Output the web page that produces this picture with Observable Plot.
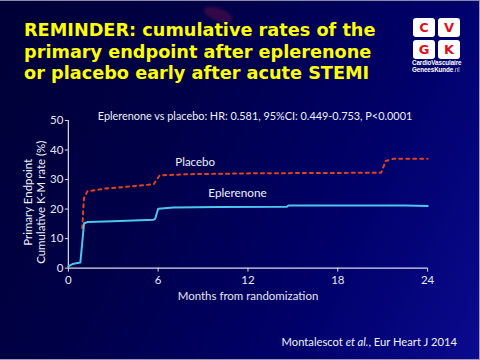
<!DOCTYPE html>
<html>
<head>
<meta charset="utf-8">
<script src="https://cdn.jsdelivr.net/npm/d3@7"></script>
<script src="https://cdn.jsdelivr.net/npm/@observablehq/plot@0.6"></script>
<style>
  html, body { margin: 0; padding: 0; }
  #page {
    position: relative; width: 480px; height: 360px; overflow: hidden; box-sizing: border-box;
    background: linear-gradient(115deg, #000036 0%, #000048 35%, #00006a 70%, #0a0a8e 100%);
    border-top: 1px solid #8a8aa8; border-right: 1px solid #9a9ab8; border-bottom: 1px solid #9a9ab8;
  }
  #blob { position: absolute; left: 203px; top: 7px; width: 30px; height: 13px; border-radius: 50%;
    background: rgba(110, 20, 70, 0.45); transform: rotate(20deg); filter: blur(1.5px); }
  #title { position: absolute; left: 24px; top: 19px; margin: 0; color: #ffff00;
    font: bold 17.7px/21.5px "DejaVu Sans", Verdana, sans-serif; }
  #logo { position: absolute; left: 413px; top: 17px; width: 48px; }
  .sq { position: absolute; width: 22px; height: 19px; background: #fff; border-radius: 3px;
    color: #e0101e; font: bold 13px/19px "DejaVu Sans", sans-serif; text-align: center; }
  #logotext { position: absolute; left: 412px; top: 58px; width: 50px; color: #fff;
    font: bold 6.3px/7.2px "Liberation Sans Narrow", "Liberation Sans", sans-serif; letter-spacing: -0.1px; }
  #chart { position: absolute; left: 0; top: 100px; }
  #caption { position: absolute; right: 22px; top: 334px; color: #f0f0f6;
    font: 11.2px "Lato", sans-serif; }
</style>
</head>
<body>
<div id="page">
  <div id="blob"></div>
  <div id="title">REMINDER: cumulative rates of the<br>primary endpoint after eplerenone<br>or placebo early after acute STEMI</div>
  <div id="logo">
    <div class="sq" style="left:0;top:0">C</div>
    <div class="sq" style="left:25px;top:0">V</div>
    <div class="sq" style="left:0;top:22px">G</div>
    <div class="sq" style="left:25px;top:22px">K</div>
  </div>
  <div id="logotext">CardioVasculaire<br>GeneesKunde<span style="font-weight:normal;opacity:0.8">.nl</span></div>
  <div id="chart"></div>
  <div id="caption">Montalescot <i>et al.</i>, Eur Heart J 2014</div>
</div>
<script>
// Data (months, cumulative K-M rate %)
const eplMonths = [0, 0.27, 0.8, 1.05, 1.3, 3.0, 5.7, 5.8, 6.0, 7.0, 10.0, 14.6, 14.7, 18.0, 22.5, 24];
const eplRates  = [0.6, 1.4, 1.9, 15.2, 15.6, 15.9, 16.4, 16.7, 20.1, 20.5, 20.7, 20.8, 21.2, 21.2, 21.2, 21.0];

const plaMonths = [0.93, 1.04, 1.27, 2.4, 4.0, 5.7, 5.9, 6.1, 7.9, 12.3, 16.0, 20.9, 21.2, 21.7, 24];
const plaRates  = [13.5, 23.7, 26.0, 26.9, 27.6, 28.4, 29.9, 31.4, 31.8, 32.1, 32.2, 32.3, 36.3, 37.0, 37.0];

const xTicks = [0, 6, 12, 18, 24];
const yTicks = [0, 10, 20, 30, 40, 50];

const seriesNames = ["Placebo", "Eplerenone"];
const hrText = "Eplerenone vs placebo: HR: 0.581, 95%CI: 0.449-0.753, P<0.0001";
const xLabel = "Months from randomization";
const yLabelLines = ["Primary Endpoint", "Cumulative K-M rate (%)"];

const epl = eplMonths.map((m, i) => ({month: m, rate: eplRates[i]}));
const pla = plaMonths.map((m, i) => ({month: m, rate: plaRates[i]}));

const axisColor = "#dcdce8";
const textColor = "#f0f0f6";

const chart = Plot.plot({
  width: 480,
  height: 260,
  marginTop: 19,
  marginBottom: 93,
  marginLeft: 68,
  marginRight: 52,
  style: {background: "transparent", color: "#e6e6f0", fontFamily: "Lato, sans-serif", fontSize: "11.5px", overflow: "visible"},
  x: {domain: [0, 24]},
  y: {domain: [0, 50]},
  marks: [
    Plot.axisX({ticks: xTicks, tickSize: 4, tickPadding: 4, stroke: axisColor, label: xLabel, labelAnchor: "center", labelArrow: "none", labelOffset: 32, fontSize: 11.5}),
    Plot.axisY({ticks: yTicks, tickSize: 3, tickPadding: 2, stroke: axisColor, label: null}),
    Plot.text([yLabelLines[0]], {frameAnchor: "left", textAnchor: "middle", rotate: -90, dx: -40, dy: 8, text: d => d, fill: textColor, fontSize: 11.5}),
    Plot.text([yLabelLines[1]], {frameAnchor: "left", textAnchor: "middle", rotate: -90, dx: -27, dy: 8, text: d => d, fill: textColor, fontSize: 11.5}),
    Plot.ruleX([0], {stroke: axisColor, strokeWidth: 1.2}),
    Plot.ruleY([0], {stroke: axisColor, strokeWidth: 1.2}),
    Plot.line(pla, {x: "month", y: "rate", stroke: "#e4421e", strokeWidth: 2, strokeDasharray: "3,4", curve: "linear"}),
    Plot.line(epl, {x: "month", y: "rate", stroke: "#4cc6ec", strokeWidth: 2, curve: "linear"}),
    Plot.text([seriesNames[0]], {x: 8.47, y: 35.8, text: d => d, fill: textColor, fontSize: 11.5}),
    Plot.text([seriesNames[1]], {x: 11.3, y: 25.3, text: d => d, fill: textColor, fontSize: 11.8}),
    Plot.text([hrText], {x: 12.47, y: 51.3, text: d => d, fill: textColor, fontSize: 10.9, clip: false})
  ]
});
document.getElementById("chart").appendChild(chart);
</script>
</body>
</html>
